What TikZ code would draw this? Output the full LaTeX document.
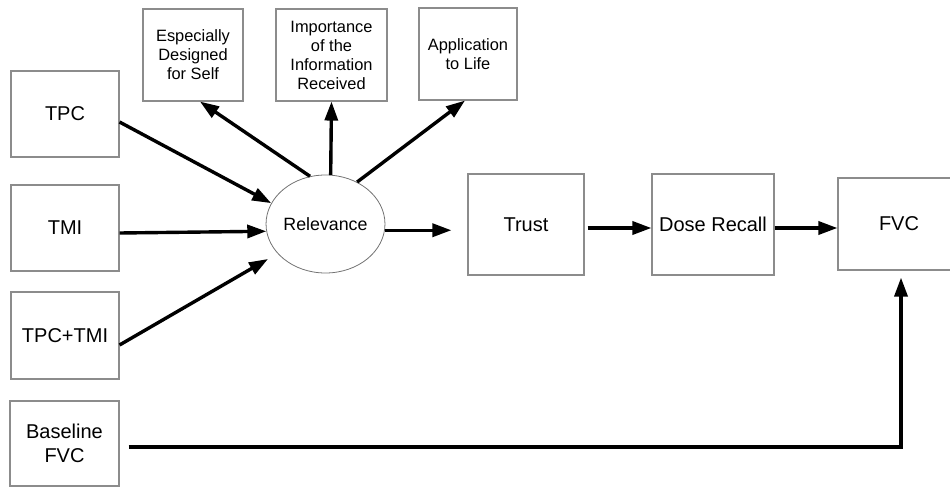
\documentclass[tikz,border=0pt]{standalone}
\usepackage{fontspec}
\setmainfont{Liberation Sans}
\usetikzlibrary{arrows.meta,shapes.geometric,calc}
\begin{document}
\begin{tikzpicture}[x=1pt,y=-1pt,
  box/.style={draw=black!45,line width=1.1pt,rectangle,inner sep=0pt,align=center,
    font=\fontsize{20}{24.5}\selectfont},
  smallbox/.style={box,font=\fontsize{16.4}{19}\selectfont},
  arr/.style={line width=3.4pt,-{Triangle[length=19pt,width=13pt]}},
]
\useasboundingbox (0,0) rectangle (950,487);
\clip (0,0) rectangle (950,487);

% left column
\node[box,minimum width=108pt,minimum height=86pt] (tpc) at (65,114) {TPC};
\node[box,minimum width=108pt,minimum height=86pt] (tmi) at (65,228) {TMI};
\node[box,minimum width=108pt,minimum height=87pt] (tpctmi) at (65,335.5) {TPC+TMI};
\node[box,minimum width=109pt,minimum height=85pt] (base) at (64.5,443.5) {Baseline\\FVC};

% top row
\node[smallbox,minimum width=100pt,minimum height=92pt] (esp) at (193,55) {Especially\\Designed\\for Self};
\node[smallbox,minimum width=111pt,minimum height=92pt] (imp) at (331.5,55) {Importance\\of the\\Information\\Received};
\node[smallbox,minimum width=98pt,minimum height=92pt] (app) at (468,54) {Application\\to Life};

% relevance
\node[ellipse,draw=black!55,line width=0.8pt,inner sep=0pt,minimum width=115pt,minimum height=98pt,
  font=\fontsize{17.8}{21}\selectfont] (rel) at (325.5,224) {Relevance};

% chain
\node[box,minimum width=116pt,minimum height=101pt] (trust) at (526,224.5) {Trust};
\node[box,minimum width=122pt,minimum height=101pt] (dose) at (713,224.5) {Dose Recall};
\node[box,minimum width=122pt,minimum height=92pt] (fvc) at (899,224) {FVC};

% arrows into relevance
\draw[arr] ([yshift=-8pt]tpc.east) -- (rel.159);
\draw[arr] ([yshift=-5pt]tmi.east) -- (rel.187);
\draw[arr] ([yshift=-9.5pt]tpctmi.east) -- ($(rel.center)+(-57.5,35)$);

% arrows out of relevance
\draw[arr] (rel.108) -- ([xshift=7pt]esp.south);
\draw[arr] (rel.84) -- (imp.south);
\draw[arr] (rel.53) -- ([xshift=-3pt]app.south);
\draw[arr] (rel.-6) -- ([xshift=-16pt]trust.west |- rel.-6);

\draw[arr] ([xshift=3pt,yshift=-3.5pt]trust.east) -- ([yshift=-3.5pt]dose.west);
\draw[arr] ([yshift=-3.5pt]dose.east) -- ([yshift=-4pt]fvc.west);

\draw[arr] ([xshift=9pt,yshift=-3.5pt]base.east) -| ([xshift=2pt,yshift=-7pt]fvc.south);
\end{tikzpicture}
\end{document}
